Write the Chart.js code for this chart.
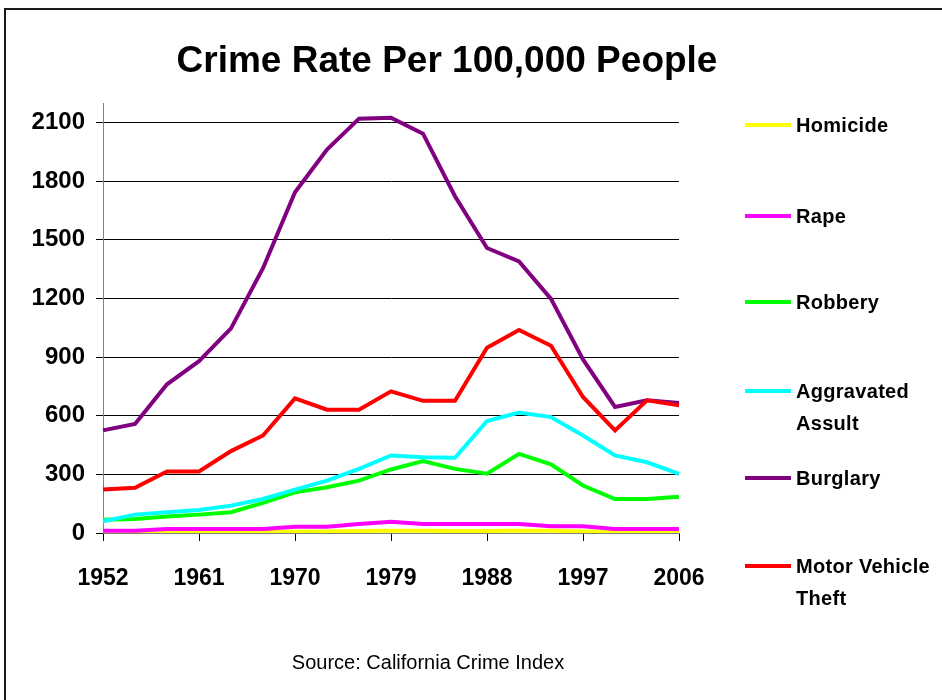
<!DOCTYPE html>
<html>
<head>
<meta charset="utf-8">
<script src="https://cdn.jsdelivr.net/npm/chart.js@4/dist/chart.umd.min.js"></script>
<style>
    html, body { margin: 0; padding: 0; background: #fff; overflow: hidden; }
    #wrap { position: relative; width: 942px; height: 700px; }
    #frame { position: absolute; left: 4px; top: 8px; width: 1000px; height: 1000px; border: 2px solid #1a1a1a; }
    #crimeChart { position: absolute; left: 0; top: 0; }
    .title { position: absolute; left: 0; width: 894px; top: 38px; text-align: center;
             font: bold 37px Arial, "Liberation Sans", sans-serif; line-height: 44px; color: #000; }
    .source { position: absolute; left: 0; width: 856px; top: 650px; text-align: center;
              font: 20px Arial, "Liberation Sans", sans-serif; line-height: 24px; color: #000; }
    .leg { position: absolute; left: 745px; }
    .leg .sw { position: absolute; left: 0; width: 46px; height: 4px; }
    .leg .tx { position: absolute; left: 51px; white-space: nowrap; font: bold 20px Arial, "Liberation Sans", sans-serif;
               line-height: 32px; color: #000; letter-spacing: 0.3px; }
</style>
</head>
<body>
<div id="wrap">
    <div id="frame"></div>
    <canvas id="crimeChart" width="942" height="700"></canvas>
    <div class="title">Crime Rate Per 100,000 People</div>
    <div class="source">Source: California Crime Index</div>
    <div id="legend"></div>
</div>
<script>
// Years, every 3 years from 1952 to 2006
var years = ['1952', '1955', '1958', '1961', '1964', '1967', '1970', '1973', '1976', '1979',
             '1982', '1985', '1988', '1991', '1994', '1997', '2000', '2003', '2006'];

// Rates per 100,000
var homicide = [3, 4, 4, 4, 5, 6, 7, 8, 10, 12, 11, 10, 10, 12, 11, 8, 6, 6, 6];
var rape = [12, 12, 20, 20, 20, 20, 32, 32, 46, 58, 46, 46, 46, 46, 34, 34, 20, 20, 20];
var robbery = [68, 72, 84, 94, 106, 154, 208, 234, 268, 325, 368, 328, 303, 405, 351, 243, 174, 174, 186];
var assault = [60, 94, 106, 118, 140, 174, 222, 268, 328, 397, 388, 385, 573, 616, 593, 499, 397, 362, 303];
var burglary = [525, 558, 761, 879, 1047, 1355, 1743, 1962, 2120, 2125, 2043, 1723, 1458, 1389, 1198, 888, 645, 679, 665];
var motorVehicle = [222, 231, 315, 315, 419, 499, 689, 631, 631, 725, 676, 676, 948, 1039, 958, 696, 525, 679, 653];

var yTicks = [0, 300, 600, 900, 1200, 1500, 1800, 2100];

initCrimeChart();

/**
 * Build the line chart and the legend beside it
 */
function initCrimeChart() {
    var ctx = document.getElementById('crimeChart').getContext('2d');

    var series = [
        { label: ['Homicide'], data: homicide, color: '#FFFF00', order: 6 },
        { label: ['Rape'], data: rape, color: '#FF00FF', order: 5 },
        { label: ['Robbery'], data: robbery, color: '#00FF00', order: 4 },
        { label: ['Aggravated', 'Assult'], data: assault, color: '#00FFFF', order: 3 },
        { label: ['Burglary'], data: burglary, color: '#800080', order: 2 },
        { label: ['Motor Vehicle', 'Theft'], data: motorVehicle, color: '#FF0000', order: 1 }
    ];

    var chart = new Chart(ctx, {
        type: 'line',
        data: {
            labels: years,
            datasets: series.map(function(s) {
                return {
                    label: s.label.join(' '),
                    data: s.data,
                    borderColor: s.color,
                    backgroundColor: s.color,
                    borderWidth: 4,
                    pointRadius: 0,
                    tension: 0,
                    fill: false,
                    order: s.order
                };
            })
        },
        options: {
            responsive: false,
            animation: false,
            events: [],
            layout: {
                padding: { left: 0, top: 103, right: 263, bottom: 109 }
            },
            plugins: {
                legend: { display: false },
                title: { display: false },
                tooltip: { enabled: false }
            },
            scales: {
                x: {
                    type: 'category',
                    offset: false,
                    border: { color: '#808080', width: 1 },
                    grid: {
                        drawOnChartArea: false,
                        drawTicks: true,
                        tickLength: 8,
                        tickColor: function(c) { return c.index % 3 === 0 ? '#000' : 'rgba(0,0,0,0)'; }
                    },
                    ticks: {
                        autoSkip: false,
                        maxRotation: 0,
                        padding: 24,
                        color: '#000',
                        font: { family: 'Arial, "Liberation Sans", sans-serif', size: 23, weight: 'bold' },
                        callback: function(val, i) { return i % 3 === 0 ? years[i] : ''; }
                    },
                    afterFit: function(scale) { scale.height = 58; }
                },
                y: {
                    min: 0,
                    max: 2200,
                    border: { color: '#808080', width: 1 },
                    grid: {
                        color: '#000',
                        lineWidth: 1,
                        tickLength: 7,
                        tickColor: '#000'
                    },
                    ticks: {
                        stepSize: 300,
                        padding: 11,
                        color: '#000',
                        font: { family: 'Arial, "Liberation Sans", sans-serif', size: 24, weight: 'bold' },
                        callback: function(val) { return String(val); }
                    },
                    afterBuildTicks: function(scale) {
                        scale.ticks = yTicks.map(function(v) { return { value: v }; });
                    },
                    afterFit: function(scale) { scale.width = 103; }
                }
            }
        }
    });

    // legend on the right, one entry per series
    var legend = document.getElementById('legend');
    var tops = [125, 216, 302, 391, 478, 566];
    series.forEach(function(s, i) {
        var item = document.createElement('div');
        item.className = 'leg';
        item.style.top = tops[i] + 'px';
        item.innerHTML = '<div class="sw" style="top:-2px;background:' + s.color + '"></div>' +
            '<div class="tx" style="top:-16px">' + s.label.join('<br>') + '</div>';
        legend.appendChild(item);
    });
}
</script>
</body>
</html>
